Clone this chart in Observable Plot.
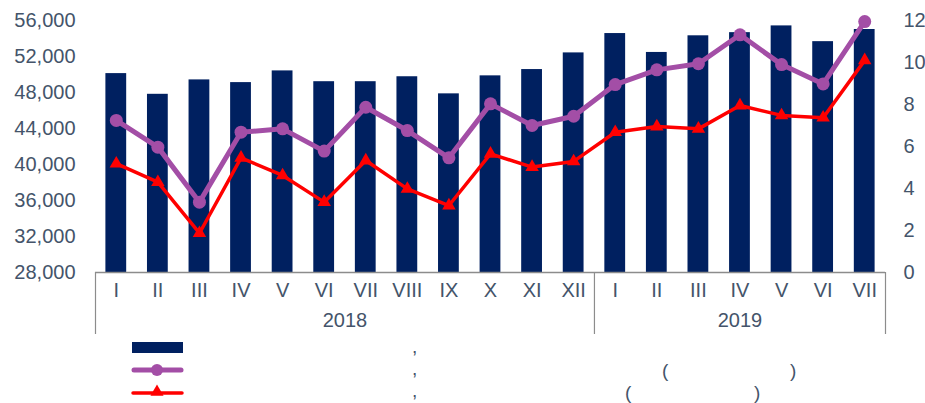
<!DOCTYPE html>
<html>
<head>
<meta charset="utf-8">
<script src="https://cdn.jsdelivr.net/npm/d3@7"></script>
<script src="https://cdn.jsdelivr.net/npm/@observablehq/plot@0.6"></script>
<style>
  html, body { margin: 0; padding: 0; background: #fff; }
  #wrap { position: relative; width: 925px; height: 403px; font-family: "Liberation Sans", Arial, sans-serif; color: #44546a; }
  #chart { position: absolute; left: 0; top: 0; }
  .lg { position: absolute; font-size: 19px; line-height: 1; color: #44546a; }
</style>
</head>
<body>
<div id="wrap">
  <div id="chart"></div>
  <svg id="legend" width="925" height="63" style="position:absolute;left:0;top:340px"></svg>
  <span class="lg" style="left:412px;top:337px">,</span>
  <span class="lg" style="left:412px;top:359px">,</span>
  <span class="lg" style="left:412px;top:381px">,</span>
  <span class="lg" style="left:662px;top:361px">(</span>
  <span class="lg" style="left:790px;top:361px">)</span>
  <span class="lg" style="left:625px;top:383px">(</span>
  <span class="lg" style="left:754px;top:383px">)</span>
</div>
<script>
const years = ["2018", "2019"];
const months2018 = ["I","II","III","IV","V","VI","VII","VIII","IX","X","XI","XII"];
const months2019 = ["I","II","III","IV","V","VI","VII"];
const barValues = [50100,47800,49400,49100,50400,49200,49200,49750,47850,49850,50550,52400,54550,52450,54300,54650,55400,53650,55000];
const purpleValues = [7.24,5.97,3.35,6.68,6.84,5.78,7.87,6.76,5.46,8.03,7.0,7.44,8.95,9.65,9.94,11.32,9.9,8.98,11.95];
const redValues = [5.18,4.3,1.87,5.46,4.62,3.35,5.33,3.98,3.19,5.65,5.02,5.29,6.68,6.95,6.84,7.95,7.48,7.37,10.1];
const leftTicks = [28000,32000,36000,40000,44000,48000,52000,56000];
const rightTicks = [0,2,4,6,8,10,12];

const NAVY = "#002060", PURPLE = "#a34ea6", RED = "#ff0000", TEXT = "#44546a", AXIS = "#8c8c8c";

// build table
const keys = [
  ...months2018.map(m => years[0] + "-" + m),
  ...months2019.map(m => years[1] + "-" + m)
];
const data = keys.map((k, i) => ({key: k, month: k.split("-")[1], bar: barValues[i], purple: purpleValues[i], red: redValues[i]}));

// secondary axis mapping (0..12 onto 28000..56000)
const yMin = 28000, yMax = 56000, rMax = 12;
const toLeft = v => yMin + v * (yMax - yMin) / rMax;
const toRight = d => Math.round((d - yMin) * rMax / (yMax - yMin));

const W = 925, H = 340, ML = 95, MR = 40, MT = 20, MB = 68;
const step = (W - ML - MR) / keys.length;
const FS = 20;

const chart = Plot.plot({
  width: W, height: H,
  marginLeft: ML, marginRight: MR, marginTop: MT, marginBottom: MB,
  style: {fontFamily: '"Liberation Sans", Arial, sans-serif', background: "white"},
  x: {type: "band", domain: keys, paddingInner: 0.5, paddingOuter: 0.25, round: false, axis: null},
  y: {domain: [yMin, yMax], axis: null},
  marks: [
    Plot.barY(data, {x: "key", y1: yMin, y2: "bar", fill: NAVY}),
    Plot.ruleY([yMin], {stroke: AXIS, strokeWidth: 1.5}),
    // group separators
    Plot.ruleX([keys[0], keys[12]], {x: d => d, y1: yMin, y2: yMin, insetBottom: -62, dx: -step / 2, stroke: AXIS, strokeWidth: 1.2}),
    Plot.ruleX([keys[keys.length - 1]], {x: d => d, y1: yMin, y2: yMin, insetBottom: -62, dx: step / 2, stroke: AXIS, strokeWidth: 1.2}),
    // month labels
    Plot.text(data, {x: "key", y: yMin, text: "month", dy: 18, fontSize: FS, fill: TEXT}),
    // year labels
    Plot.text([years[0]], {x: () => "2018-VI", y: yMin, text: d => d, dy: 48, dx: step / 2, fontSize: FS, fill: TEXT}),
    Plot.text([years[1]], {x: () => "2019-IV", y: yMin, text: d => d, dy: 48, fontSize: FS, fill: TEXT}),
    // lines
    Plot.line(data, {x: "key", y: d => toLeft(d.purple), stroke: PURPLE, strokeWidth: 5}),
    Plot.dot(data, {x: "key", y: d => toLeft(d.purple), r: 6.5, fill: PURPLE}),
    Plot.line(data, {x: "key", y: d => toLeft(d.red), stroke: RED, strokeWidth: 3.5}),
    Plot.dot(data, {x: "key", y: d => toLeft(d.red), r: 5, symbol: "triangle", fill: RED}),
    // axes
    Plot.axisY({anchor: "left", label: null, ticks: leftTicks, tickSize: 0, tickPadding: 20, tickFormat: d3.format(","), fontSize: FS, fill: TEXT}),
    Plot.axisY({anchor: "right", label: null, ticks: rightTicks.map(toLeft), tickSize: 0, tickPadding: 18, tickFormat: toRight, fontSize: FS, fill: TEXT})
  ]
});
document.getElementById("chart").appendChild(chart);

// legend symbols
const lg = d3.select("#legend");
lg.append("rect").attr("x", 132).attr("y", 2).attr("width", 51).attr("height", 11).attr("fill", NAVY);
lg.append("line").attr("x1", 134).attr("x2", 181).attr("y1", 30).attr("y2", 30).attr("stroke", PURPLE).attr("stroke-width", 5).attr("stroke-linecap", "round");
lg.append("circle").attr("cx", 157).attr("cy", 30).attr("r", 6).attr("fill", PURPLE);
lg.append("line").attr("x1", 133).attr("x2", 182).attr("y1", 53).attr("y2", 53).attr("stroke", RED).attr("stroke-width", 3.5).attr("stroke-linecap", "round");
lg.append("path").attr("d", d3.symbol(d3.symbolTriangle, 75)()).attr("transform", "translate(157,52)").attr("fill", RED);
</script>
</body>
</html>
